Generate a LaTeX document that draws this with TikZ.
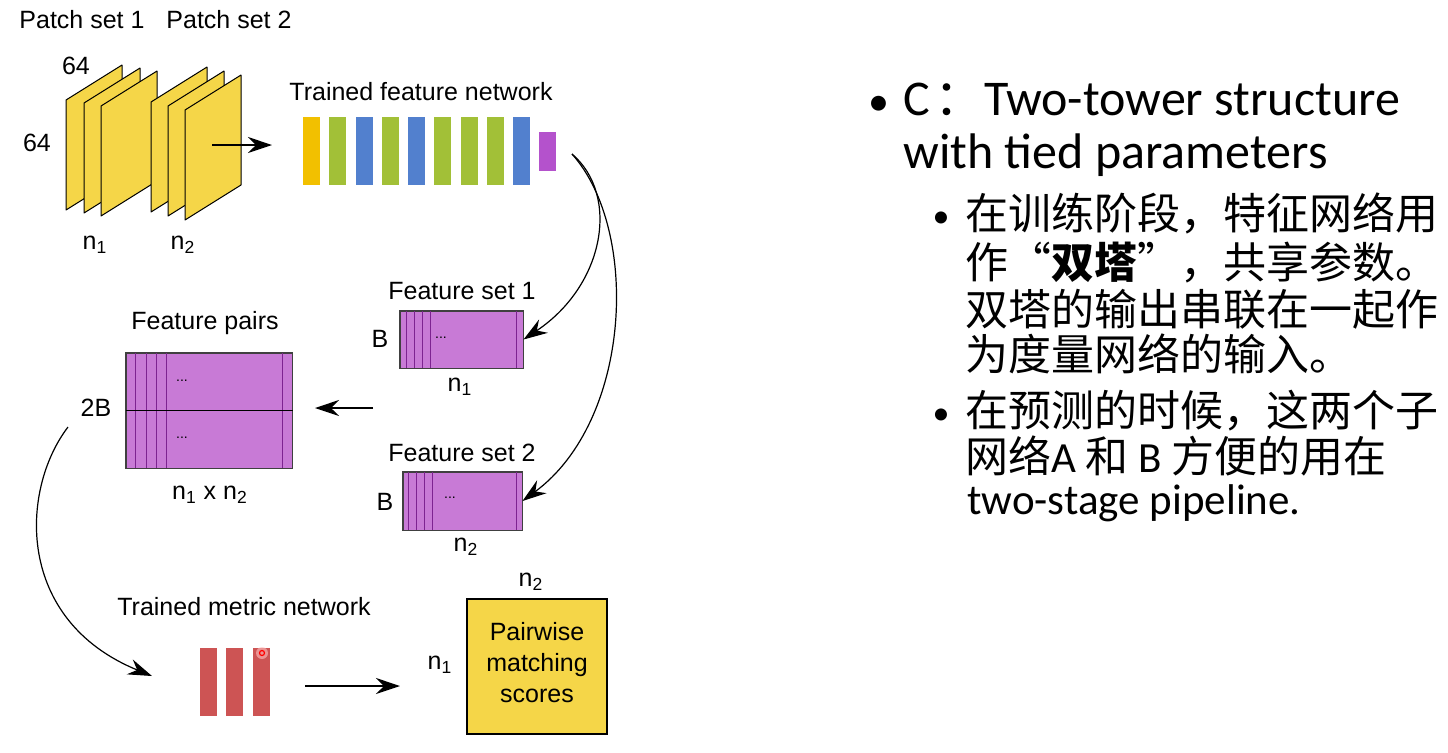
\documentclass[tikz,border=0pt]{standalone}
\usepackage{fontspec}
\setmainfont{Liberation Sans}
\newfontfamily\cjk{Noto Sans CJK SC}
\newfontfamily\calfont{Carlito}
\usetikzlibrary{arrows.meta}

\definecolor{sheetyellow}{RGB}{245,214,72}
\definecolor{baryellow}{RGB}{242,192,0}
\definecolor{bargreen}{RGB}{162,192,55}
\definecolor{barblue}{RGB}{82,128,206}
\definecolor{barpurple}{RGB}{180,82,204}
\definecolor{featfill}{RGB}{200,122,214}
\definecolor{featline}{RGB}{125,35,145}
\definecolor{metricred}{RGB}{205,84,84}

\tikzset{
  lbl/.style={font=\fontsize{12.5}{15}\selectfont, inner sep=0pt},
  sheet/.style={draw=black, fill=sheetyellow, line width=0.5pt, line join=round},
  bar/.style={minimum width=8.5pt, minimum height=34pt, inner sep=0pt, draw=none},
  featbox/.style={draw=black!75, fill=featfill, line width=0.5pt, inner sep=0pt},
  featsep/.style={featline, line width=0.6pt},
  dots/.style={font=\fontsize{7}{8}\selectfont, inner sep=0pt},
  flow/.style={-{Stealth[length=12pt,width=8pt,inset=4pt]}, line width=0.7pt},
  head/.style={anchor=base west, inner sep=0pt, font=\calfont\fontsize{25}{30}\selectfont},
  zh/.style={anchor=base west, inner sep=0pt, font=\cjk\fontsize{21.5}{24}\selectfont},
  dot/.style={anchor=base, inner sep=0pt, font=\calfont\fontsize{#1}{24}\selectfont},
}

\begin{document}
\begin{tikzpicture}[x=0.5pt, y=-0.5pt]
    \useasboundingbox (0,0) rectangle (1448,752);

    % patch sets
    \foreach \x/\y in {66/100,84/103,101/106,151/102,168/106,185/110}
        \draw[sheet] (\x,\y) -- ++(56,-35) -- ++(0,110) -- ++(-56,35) -- cycle;
    \node[lbl] (ps1) at (82,20) {Patch set 1};
    \node[lbl] (ps2) at (229,20) {Patch set 2};
    \node[lbl] (wtop) at (76,66) {64};
    \node[lbl] (hleft) at (37,143) {64};
    \node[lbl] (pn1) at (95,245) {n\textsubscript{1}};
    \node[lbl] (pn2) at (183,245) {n\textsubscript{2}};

    \coordinate (pin) at (212,145);
    \coordinate (pout) at (272,145);

    % feature network
    \node[lbl] (fnet) at (421,92) {Trained feature network};
    \foreach \c [count=\i] in {baryellow,bargreen,barblue,bargreen,barblue,bargreen,bargreen,bargreen,barblue}
        \node[bar, fill=\c] (b\i) at (285.25+26.25*\i,151) {};
    \node[bar, fill=barpurple, minimum height=19.5pt] (bout) at (547.5,151.5) {};
    \coordinate (split) at (572,154);

    % feature sets
    \node[featbox, minimum width=61.5pt, minimum height=28.5pt] (fs1) at (461.5,339.5) {};
    \foreach \d in {7,15,23,31}
        \draw[featsep] ([xshift=\d*0.5pt]fs1.north west) -- ([xshift=\d*0.5pt]fs1.south west);
    \draw[featsep] ([xshift=-3.5pt]fs1.north east) -- ([xshift=-3.5pt]fs1.south east);
    \draw[black!75, line width=0.5pt] (fs1.north west) rectangle (fs1.south east);
    \node[dots] (fsd1) at (441,338) {...};
    \node[lbl] (fs1t) at (462,291) {Feature set 1};
    \node[lbl] (fs1b) at (380,339) {B};
    \node[lbl] (fs1n) at (460,387) {n\textsubscript{1}};

    \node[featbox, minimum width=59.5pt, minimum height=29pt] (fs2) at (462.5,501) {};
    \foreach \d in {6,14,22,30}
        \draw[featsep] ([xshift=\d*0.5pt]fs2.north west) -- ([xshift=\d*0.5pt]fs2.south west);
    \draw[featsep] ([xshift=-3pt]fs2.north east) -- ([xshift=-3pt]fs2.south east);
    \draw[black!75, line width=0.5pt] (fs2.north west) rectangle (fs2.south east);
    \node[dots] (fsd2) at (450,498) {...};
    \node[lbl] (fs2t) at (462,453) {Feature set 2};
    \node[lbl] (fs2b) at (385,502) {B};
    \node[lbl] (fs2n) at (466,547) {n\textsubscript{2}};

    % feature pairs
    \node[featbox, minimum width=83pt, minimum height=57.5pt] (fp) at (209,410.5) {};
    \foreach \d in {10,21,31,41}
        \draw[featsep] ([xshift=\d*0.5pt]fp.north west) -- ([xshift=\d*0.5pt]fp.south west);
    \draw[featsep] ([xshift=-5pt]fp.north east) -- ([xshift=-5pt]fp.south east);
    \draw[black!75, line width=0.5pt] (fp.north west) rectangle (fp.south east);
    \draw[black, line width=0.7pt] (fp.west) -- (fp.east);
    \node[dots] (fpd1) at (182,381) {...};
    \node[dots] (fpd2) at (182,438) {...};
    \node[lbl] (fpt) at (205,323) {Feature pairs};
    \node[lbl] (fp2b) at (96,408) {2B};
    \node[lbl] (fpn) at (210,495) {n\textsubscript{1} x n\textsubscript{2}};
    \coordinate (jin) at (373,408);
    \coordinate (jout) at (315,408);

    % metric network
    \node[lbl] (mnet) at (244,607) {Trained metric network};
    \node[bar, fill=metricred] (r1) at (208.5,682) {};
    \node[bar, fill=metricred] (r2) at (234.5,682) {};
    \node[bar, fill=metricred] (r3) at (261.5,682) {};
    \fill[red!25, opacity=0.6] (262,653) circle (6);
    \draw[red, line width=0.6pt] (262,653) circle (2.5);
    \coordinate (two) at (68,427);
    \coordinate (mend) at (152,676);
    \coordinate (mout) at (305,686);
    \coordinate (send) at (400,686);

    % scores
    \node[draw=black, line width=1pt, fill=sheetyellow, minimum width=70pt, minimum height=67.5pt] (score) at (537,666.5) {};
    \node[align=center, inner sep=0pt, font=\fontsize{12.5}{15.5}\selectfont] (scoret) at (537,663) {Pairwise\\matching\\scores};
    \node[lbl] (sn1) at (440,665) {n\textsubscript{1}};
    \node[lbl] (sn2) at (531,582) {n\textsubscript{2}};

    % arrows
    \draw[flow] (pin) -- (pout);
    \draw[flow, line width=0.6pt] (split) .. controls (620,195) and (605,285) .. (fs1.east);
    \draw[flow, line width=0.6pt] (split) .. controls (640,230) and (632,420) .. (fs2.east);
    \draw[flow] (jin) -- (jout);
    \draw[flow, line width=0.6pt] (two) .. controls (20,490) and (15,620) .. (mend);
    \draw[flow] (mout) -- (send);

    % text on the right
    \node[dot=21] (bul1) at (879,115) {•};
    \node[head] (h1) at (903,115) {C\hspace{2pt}{\cjk ：}Two-tower structure};
    \node[head] (h2) at (903,168) {with tied parameters};
    \node[dot=17] (bul2) at (941,227) {•};
    \node[zh] (z1) at (965,229) {在训练阶段，特征网络用};
    \node[zh] (z2) at (965,278) {作“\textbf{双塔}”，共享参数。};
    \node[zh] (z3) at (965,325) {双塔的输出串联在一起作};
    \node[zh] (z4) at (965,370) {为度量网络的输入。};
    \node[dot=17] (bul3) at (941,424) {•};
    \node[zh] (z5) at (965,426) {在预测的时候，这两个子};
    \node[zh] (z6) at (965,472) {网络{\calfont A} 和 {\calfont B} 方便的用在};
    \node[head, font=\calfont\fontsize{21.5}{24}\selectfont] (z7) at (967,514) {two-stage pipeline.};
\end{tikzpicture}
\end{document}
